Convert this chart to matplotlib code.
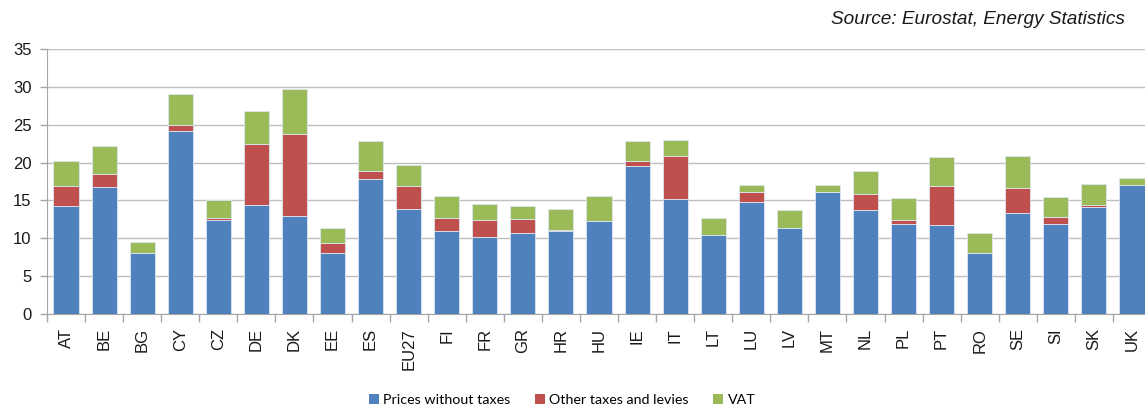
import numpy as np
import matplotlib.pyplot as plt
from matplotlib.patches import Patch

# ============================================================
# DATA
# ============================================================
countries = ["AT", "BE", "BG", "CY", "CZ", "DE", "DK", "EE", "ES", "EU27",
             "FI", "FR", "GR", "HR", "HU", "IE", "IT", "LT", "LU", "LV",
             "MT", "NL", "PL", "PT", "RO", "SE", "SI", "SK", "UK"]

prices_no_tax = [14.2, 16.8, 8.0, 24.2, 12.4, 14.4, 13.0, 8.0, 17.85, 13.85,
                 11.0, 10.2, 10.75, 11.0, 12.25, 19.6, 15.2, 10.5, 14.8, 11.3,
                 16.15, 13.7, 11.95, 11.7, 8.05, 13.4, 11.95, 14.15, 17.0]
other_taxes = [2.65, 1.65, 0.0, 0.7, 0.25, 8.1, 10.75, 1.4, 1.0, 3.0,
               1.65, 2.25, 1.8, 0.1, 0.0, 0.65, 5.7, 0.0, 1.3, 0.0,
               0.0, 2.1, 0.5, 5.15, 0.0, 3.3, 0.9, 0.3, 0.0]
vat = [3.4, 3.8, 1.55, 4.15, 2.35, 4.25, 5.95, 1.9, 3.95, 2.85,
       3.0, 2.05, 1.65, 2.75, 3.3, 2.65, 2.1, 2.15, 0.9, 2.4,
       0.85, 3.15, 2.9, 3.85, 2.7, 4.2, 2.55, 2.75, 0.9]

series_names = ["Prices without taxes", "Other taxes and levies", "VAT"]
colors = ["#4F81BD", "#C0504D", "#9BBB59"]

# ============================================================
# PLOT
# ============================================================
plt.rcParams["font.family"] = ["Liberation Sans", "DejaVu Sans"]

fig = plt.figure(figsize=(11.45, 4.09), dpi=100)
ax = fig.add_axes([47 / 1145, 95 / 409, 1104 / 1145, 265 / 409])

x = np.arange(len(countries))
p = np.array(prices_no_tax)
o = np.array(other_taxes)
v = np.array(vat)

bar_kw = dict(width=0.66, edgecolor="#DCE6F2", linewidth=0.6, zorder=3)
ax.bar(x, p, color=colors[0], **bar_kw)
ax.bar(x, o, bottom=p, color=colors[1], **bar_kw)
ax.bar(x, v, bottom=p + o, color=colors[2], **bar_kw)

ax.set_xlim(-0.5, len(countries) - 0.5)
ax.set_ylim(0, 35)
ax.set_yticks(np.arange(0, 36, 5))
ax.yaxis.grid(True, color="#BFBFBF", linewidth=1.0, zorder=0)
ax.set_axisbelow(True)

ax.set_xticks(x)
ax.set_xticklabels(countries, rotation=90, fontsize=12, color="#1A1A1A")
ax.set_xticks(np.arange(-0.5, len(countries), 1), minor=True)
ax.tick_params(axis="x", which="major", length=0, pad=10)
ax.tick_params(axis="x", which="minor", length=6, color="#A6A6A6", width=1)
ax.tick_params(axis="y", length=5, color="#A6A6A6", width=1, labelsize=12,
               labelcolor="#1A1A1A", pad=6)

for s in ["top", "right"]:
    ax.spines[s].set_visible(False)
ax.spines["left"].set_color("#A6A6A6")
ax.spines["bottom"].set_color("#A6A6A6")

handles = [Patch(facecolor=c, edgecolor="none") for c in colors]
fig.legend(handles, series_names, loc="center", bbox_to_anchor=(0.491, 0.022),
           ncol=3, frameon=False, handlelength=0.7, handleheight=0.7,
           handletextpad=0.3, columnspacing=1.7,
           prop={"family": ["Lato", "DejaVu Sans"], "size": 10.3})

fig.text(1125 / 1145, 1 - 20 / 409, "Source: Eurostat, Energy Statistics",
         ha="right", va="center", fontsize=13.7, style="italic", color="#1A1A1A")

fig.savefig("out.png", dpi=100)
